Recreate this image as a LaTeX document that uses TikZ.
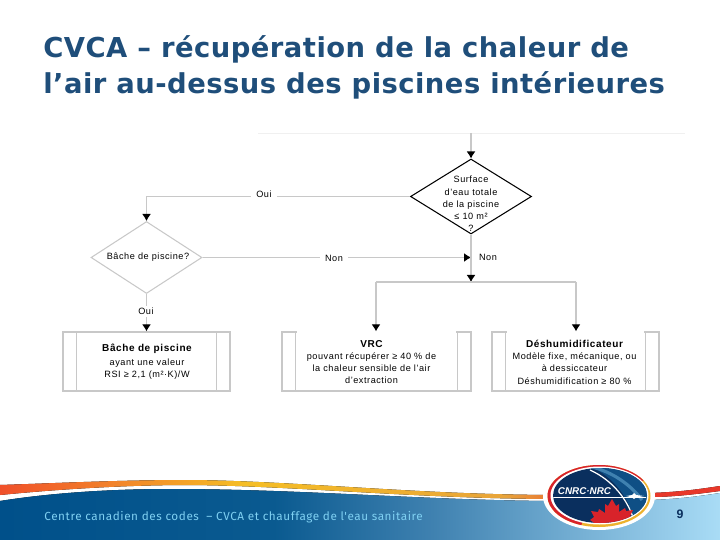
\documentclass[tikz,border=0pt]{standalone}
\usepackage{fontspec}
\setmainfont{Liberation Sans}
\newfontfamily\titlefont[LetterSpace=1.7]{DejaVu Sans}
\newfontfamily\flowfont[LetterSpace=6]{Liberation Sans}
\newfontfamily\footfont[LetterSpace=5]{Fira Sans}
\newcommand{\boxheadfont}{\bfseries\fontsize{5.7}{7}\selectfont}
\usetikzlibrary{shapes.geometric,arrows.meta}
\definecolor{titleblue}{HTML}{1F4E7A}
\definecolor{flowgrey}{HTML}{C8C8C8}
\definecolor{footlight}{HTML}{7FD0F2}
\definecolor{footnavy}{HTML}{0A2F5E}
\definecolor{logored}{HTML}{D8232A}
\definecolor{logogold}{HTML}{EDB22E}
\definecolor{logoblue}{HTML}{0F4F85}
\definecolor{skyA}{HTML}{00508A}
\definecolor{skyB}{HTML}{0A5A90}
\definecolor{skyC}{HTML}{3F81B0}
\definecolor{skyD}{HTML}{A9DCF6}
\definecolor{bandA}{HTML}{F0502A}
\definecolor{bandB}{HTML}{F28A2A}
\definecolor{bandC}{HTML}{F5BE25}
\definecolor{bandD}{HTML}{E8A43A}
\definecolor{bandE}{HTML}{E8382A}
\pgfdeclarehorizontalshading{skyshade}{100bp}{color(0bp)=(skyA); color(25bp)=(skyA); color(44bp)=(skyB); color(55bp)=(skyC); color(75bp)=(skyD); color(100bp)=(skyD)}
\pgfdeclarehorizontalshading{bandshade}{100bp}{color(0bp)=(bandA); color(25bp)=(bandA); color(34bp)=(bandB); color(42bp)=(bandC); color(60bp)=(bandD); color(68bp)=(bandE); color(100bp)=(bandE)}
\tikzset{
  titletext/.style = {anchor=base west, inner sep=0pt, text=titleblue, font=\titlefont\bfseries\fontsize{15.6}{18}\selectfont},
  flowtext/.style = {font=\flowfont\fontsize{5.2}{7}\selectfont, align=center, inner sep=1pt},
  flowlabel/.style = {flowtext, fill=white, inner xsep=3pt},
  decision/.style = {diamond, draw=flowgrey, line width=0.6pt, aspect=1.55, inner sep=0pt},
  procbox/.style = {draw=flowgrey, line width=0.7pt, minimum width=167*0.02cm, minimum height=59*0.02cm, inner sep=0pt},
  flowline/.style = {draw=flowgrey, line width=0.7pt},
  flowarrow/.style = {flowline, -{Latex[black,length=7*0.02cm,width=9*0.02cm]}}
}
\begin{document}
\begin{tikzpicture}[x=0.02cm,y=-0.02cm]
  \useasboundingbox (0,0) rectangle (720,540);

  % title
  \node [titletext] at (43,58) (title1) {CVCA – récupération de la chaleur de};
  \node [titletext] at (43,93.5) (title2) {l’air au-dessus des piscines intérieures};

  % flowchart
  \draw [draw=black!6, line width=0.5pt] (258,133) -- (685,133);
  \coordinate (start) at (471,133);
  \node [decision, draw=black, minimum width=121*0.02cm, minimum height=75*0.02cm] at (471,196.5) (surface) {};
  \node [flowtext] at (471,204) (surfacetext) {Surface\\d’eau totale\\de la piscine\\≤ 10 m²\\?};
  \node [decision, minimum width=111*0.02cm, minimum height=72*0.02cm] at (146.5,257.5) (bache) {};
  \node [flowtext] at (148,257) (bachetext) {Bâche de piscine?};

  \node [procbox] at (146.5,361.5) (bachebox) {};
  \node [procbox, minimum width=189*0.02cm] at (376.5,361.5) (vrcbox) {};
  \node [procbox] at (575.5,361.5) (deshbox) {};
  \foreach \boxname in {bachebox,vrcbox,deshbox} {
    \draw [flowline] ([xshift=14*0.02cm]\boxname.north west) -- ([xshift=14*0.02cm]\boxname.south west);
    \draw [flowline] ([xshift=-14*0.02cm]\boxname.north east) -- ([xshift=-14*0.02cm]\boxname.south east);
  }
  \foreach \boxname in {vrcbox,deshbox}
    \draw [white, line width=1.6pt] ([xshift=16*0.02cm]\boxname.north west) -- ([xshift=-16*0.02cm]\boxname.north east);
  \node [flowtext] at (147,362) (bachetxt) {{\boxheadfont Bâche de piscine}\\[1pt]ayant une valeur\\RSI ≥ 2,1 (m²·K)/W};
  \node [flowtext] at (371.5,362) (vrctxt) {{\boxheadfont VRC}\\pouvant récupérer ≥ 40 \% de\\la chaleur sensible de l’air\\d’extraction};
  \node [flowtext] at (574.5,362) (deshtxt) {{\boxheadfont Déshumidificateur}\\Modèle fixe, mécanique, ou\\à dessiccateur\\Déshumidification ≥ 80 \%};

  \coordinate (merge) at (471,257.5);
  \coordinate (split) at (471,282);
  \coordinate (splitleft) at (376,282);
  \coordinate (splitright) at (576,282);

  \draw [flowarrow] (start) -- (surface.north);
  \draw [flowarrow] (surface.west) -| (bache.north);
  \draw [flowarrow] (bache.east) -- (merge);
  \draw [flowarrow] (surface.south) -- (split);
  \draw [flowline] (splitleft) -- (splitright);
  \draw [flowarrow] (splitleft) -- (vrcbox.north -| splitleft);
  \draw [flowarrow] (splitright) -- (deshbox.north -| splitright);
  \draw [flowarrow] (bache.south) -- (bachebox.north);

  \node [flowlabel] at (264,194) (oui1) {Oui};
  \node [flowlabel] at (334,258) (non1) {Non};
  \node [flowlabel] at (488,257) (non2) {Non};
  \node [flowlabel] at (146,311.5) (oui2) {Oui};

  % footer
  \fill [shading=bandshade] (0,485) .. controls (60,483) and (120,480) .. (190,480) .. controls (300,481) and (420,495) .. (560,495) -- (650,493) .. controls (680,492) and (700,489) .. (720,486) -- (720,491) .. controls (690,495) and (670,497) .. (650,497) -- (560,499) .. controls (420,499) and (300,486) .. (190,485) .. controls (120,485) and (50,490) .. (0,495) -- cycle;
  \fill [shading=skyshade] (0,501) .. controls (50,493) and (110,489) .. (170,489) .. controls (300,489) and (420,500) .. (550,501) -- (650,500) .. controls (680,499) and (700,496) .. (720,493) -- (720,540) -- (0,540) -- cycle;
  \node [anchor=base west, inner sep=0pt, text=footlight, font=\footfont\fontsize{6.67}{8}\selectfont] at (44,520) (footer) {Centre canadien des codes\ \ – CVCA et chauffage de l'eau sanitaire};
  \node [text=footnavy, font=\bfseries\fontsize{7}{8}\selectfont, inner sep=0pt] at (680,514.5) (page) {9};

  % logo
  \fill [white] (599,496) ellipse (56 and 34);
  \fill [logogold] (599,496) ellipse (51.5 and 31);
  \fill [logored] (547.5,496) arc (180:330:51.5 and 31) -- (570,496) -- cycle;
  \fill [logored] (547.5,496) arc (180:110:51.5 and 31) -- (590,496) -- cycle;
  \fill [white] (599.5,495.5) ellipse (49 and 29);
  \fill [footnavy] (600,495.5) ellipse (47 and 27.5);
  \begin{scope}
    \clip (600,495.5) ellipse (47 and 27.5);
    \fill [logoblue] (590,466) .. controls (615,478) and (632,500) .. (636,530) -- (660,530) -- (660,460) -- cycle;
    \draw [white, line width=0.7pt] (590,470) .. controls (612,480) and (630,500) .. (636,528);
    \draw [skyC, line width=1.8pt] (592,467) .. controls (612,472) and (630,484) .. (642,500);
    \fill [logored] (612,499) -- (616,506) -- (619,504) -- (619,512) -- (625,508) -- (626,511) -- (633,510) -- (630,516) -- (634,519) -- (624,527) -- (626,533) -- (598,533) -- (600,527) -- (590,520) -- (594,517) -- (591,511) -- (598,512) -- (599,509) -- (605,513) -- (605,504) -- (608,506) -- cycle;
    \draw [white, line width=0.3pt] (553,497) -- (647,497);
  \end{scope}
  \node [white, font=\bfseries\itshape\fontsize{5.6}{7}\selectfont, inner sep=0pt] at (584.5,491) (logotext) {CNRC·NRC};
  \fill [white] (626,496) -- (632,495) -- (634,493) -- (636,495) -- (644,496) -- (636,497.5) -- (634,499) -- (632,497.5) -- cycle;
\end{tikzpicture}
\end{document}
